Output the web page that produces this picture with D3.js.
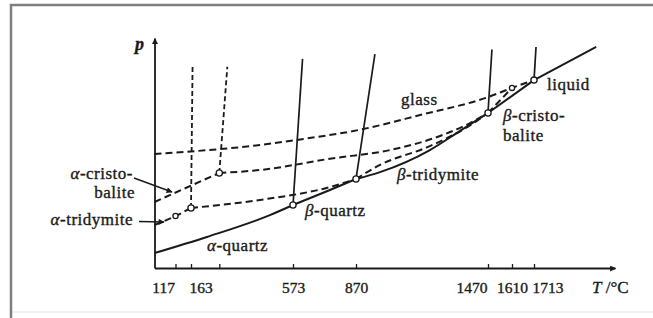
<!DOCTYPE html>
<html>
<head>
<meta charset="utf-8">
<script src="https://cdn.jsdelivr.net/npm/d3@7"></script>
<style>
  body { margin: 0; background: #fff; }
  svg text { font-family: "Liberation Serif", "DejaVu Serif", serif; fill: #1a1a1a; stroke: #1a1a1a; stroke-width: 0.35px; }
</style>
</head>
<body>
<div id="chart"></div>
<script>
// Schematic p-T diagram of SiO2. T in °C, p in arbitrary units (0..100)
var tickTemps  = [117, 163, 270, 573, 870, 1470, 1610, 1713];
var tickLabels = ["117", "163", "", "573", "870", "1470", "1610", "1713"];

// stable branch (solid)
var alphaQuartz      = [[100, 6.5], [223, 13.5], [478, 23], [573, 27.4]];
var betaQuartz       = [[573, 27.4], [747, 33.9], [870, 38.7]];
var betaTridymite    = [[870, 38.7], [979, 41.7], [1206, 51.3], [1343, 59.6], [1470, 67.4]];
var betaCristobalite = [[1470, 67.4], [1713, 81.7]];
var liquid           = [[1713, 81.7], [1895, 96.1]];

// metastable branches (dashed)
var glass              = [[100, 49.6], [437, 53.5], [592, 55.7], [902, 60.4], [1161, 66.5], [1470, 74.3], [1610, 78.3], [1713, 81.7]];
var alphaTridymite     = [[100, 18.7], [117, 22.6], [163, 26.1]];
var betaTridymiteLow   = [[163, 26.1], [437, 29.6], [747, 35.2], [870, 38.7]];
var betaTridymiteHigh  = [[1470, 67.4], [1610, 78.3]];
var betaQuartzHigh     = [[870, 38.7], [979, 44.8], [1206, 53], [1388, 62], [1470, 67.4]];
var alphaCristobalite  = [[100, 28.7], [270, 41.3]];
var betaCristobaliteLo = [[270, 41.3], [437, 42.6], [747, 47.5], [1025, 51.3], [1252, 57.4], [1388, 63], [1470, 67.4]];

// phase boundaries going up from the transition points
var solidBounds  = [[[573, 27.4], [618, 90.9]], [[870, 38.7], [956, 93]], [[1470, 67.4], [1493, 95]], [[1713, 81.7], [1719, 96.1]]];
var dashedBounds = [[[163, 26.1], [169, 88.3]], [[270, 41.3], [303, 87.5]]];

// transition points (open circles)
var points = [[117, 22.6], [163, 26.1], [270, 41.3], [573, 27.4], [870, 38.7], [1470, 67.4], [1610, 78.3], [1713, 81.7]];

var W = 653, H = 318;
var margin = {top: 38, left: 154.5},
    width = 460.5,
    height = 230;

var svg = d3.select("#chart")
  .append("svg")
    .attr("width", W)
    .attr("height", H);

// frame of the scanned figure
svg.append("line")
  .attr("x1", 11).attr("x2", W).attr("y1", 312).attr("y2", 312)
  .attr("stroke", "#ececec").attr("stroke-width", 1.5);
svg.append("path")
  .attr("d", "M11," + H + "V5H" + W)
  .attr("fill", "none").attr("stroke", "#7f7f7f").attr("stroke-width", 2.5);

var defs = svg.append("defs");
defs.append("marker")
    .attr("id", "arrow")
    .attr("viewBox", "0 0 10 10")
    .attr("refX", 9).attr("refY", 5)
    .attr("markerWidth", 8).attr("markerHeight", 6)
    .attr("markerUnits", "userSpaceOnUse")
    .attr("orient", "auto")
  .append("path")
    .attr("d", "M0,0L10,5L0,10z")
    .attr("fill", "#1a1a1a");

var g = svg.append("g")
  .attr("transform", "translate(" + margin.left + "," + margin.top + ")");

// the temperature axis of the original is not to scale: piecewise linear
var x = d3.scaleLinear()
  .domain([100, 117, 163, 270, 573, 870, 1470, 1610, 1713, 1950])
  .range([0, 21, 36.5, 64.8, 138.5, 201.5, 333.5, 357.5, 379.5, width]);
var y = d3.scaleLinear()
  .domain([0, 100])
  .range([height, 0]);

// axes
var xAxis = g.append("g")
  .attr("transform", "translate(0," + height + ")")
  .call(d3.axisBottom(x)
    .tickValues(tickTemps)
    .tickFormat(function(d, i) { return tickLabels[i]; })
    .tickSizeInner(-4)
    .tickSizeOuter(0)
    .tickPadding(14));
xAxis.select(".domain").attr("stroke", "#1a1a1a").attr("stroke-width", 1.8).attr("marker-end", "url(#arrow)");
xAxis.selectAll(".tick line").attr("stroke", "#1a1a1a").attr("stroke-width", 1.3);
var anchors = {117: "end", 163: "start", 1470: "end", 1713: "start"};
xAxis.selectAll(".tick text")
  .style("font-family", "Liberation Serif, serif")
  .style("font-size", "15.5px")
  .attr("fill", "#1a1a1a")
  .attr("text-anchor", function(d) { return anchors[d] || "middle"; })
  .attr("dx", function(d) { return anchors[d] === "end" ? -1 : (anchors[d] === "start" ? -2 : 0); });

var yAxis = g.append("g")
  .call(d3.axisLeft(y).tickValues([]).tickSizeOuter(0));
yAxis.select(".domain").attr("stroke", "#1a1a1a").attr("stroke-width", 1.8).attr("marker-end", "url(#arrow)");

var curve = d3.line()
  .x(function(d) { return x(d[0]); })
  .y(function(d) { return y(d[1]); })
  .curve(d3.curveMonotoneX);
var straight = d3.line()
  .x(function(d) { return x(d[0]); })
  .y(function(d) { return y(d[1]); });

var dash = "7,4";

// metastable curves
[glass, alphaTridymite, betaTridymiteLow, betaTridymiteHigh, betaQuartzHigh, alphaCristobalite, betaCristobaliteLo]
  .forEach(function(c) {
    g.append("path")
      .attr("d", curve(c))
      .attr("fill", "none")
      .attr("stroke", "#1a1a1a")
      .attr("stroke-width", 2)
      .attr("stroke-dasharray", dash);
  });

dashedBounds.forEach(function(c) {
  g.append("path")
    .attr("d", straight(c))
    .attr("fill", "none")
    .attr("stroke", "#1a1a1a")
    .attr("stroke-width", 1.8)
    .attr("stroke-dasharray", "5,3");
});

// stable curves
[alphaQuartz, betaQuartz, betaTridymite, betaCristobalite, liquid].forEach(function(c) {
  g.append("path")
    .attr("d", curve(c))
    .attr("fill", "none")
    .attr("stroke", "#1a1a1a")
    .attr("stroke-width", 2);
});

solidBounds.forEach(function(c) {
  g.append("path")
    .attr("d", straight(c))
    .attr("fill", "none")
    .attr("stroke", "#1a1a1a")
    .attr("stroke-width", 1.7);
});

g.selectAll("circle.pt")
  .data(points)
  .enter()
  .append("circle")
    .attr("class", "pt")
    .attr("cx", function(d) { return x(d[0]); })
    .attr("cy", function(d) { return y(d[1]); })
    .attr("r", function(d) { return (d[0] === 117 || d[0] === 1610) ? 2.6 : 3.1; })
    .attr("fill", "#fff")
    .attr("stroke", "#1a1a1a")
    .attr("stroke-width", 1.3);

// labels
function label(txt, px, py, anchor, greek) {
  var t = svg.append("text")
    .attr("x", px).attr("y", py)
    .attr("text-anchor", anchor || "start")
    .style("font-size", "17px")
    .style("letter-spacing", "0.5px");
  if (greek) {
    t.append("tspan").style("font-style", "italic").text(greek);
  }
  t.append("tspan").text(txt);
  return t;
}
label("glass", 401, 105);
label("liquid", 547, 90);
label("-cristo-", 503, 121, "start", "β");
label("balite", 503, 141);
label("-tridymite", 397, 180, "start", "β");
label("-quartz", 305, 216, "start", "β");
label("-quartz", 207, 251, "start", "α");
label("-cristo-", 133, 179, "end", "α");
label("balite", 135, 198, "end");
label("-tridymite", 133, 225, "end", "α");

svg.append("text")
  .attr("x", 135).attr("y", 50)
  .style("font-size", "18px").style("font-style", "italic").style("font-weight", "bold")
  .text("p");
var tl = svg.append("text")
  .attr("x", 592).attr("y", 293)
  .style("font-size", "17px");
tl.append("tspan").style("font-style", "italic").text("T");
tl.append("tspan").text(" /°C");

// annotation arrows
svg.append("line")
  .attr("x1", 134).attr("y1", 178).attr("x2", 172).attr("y2", 192)
  .attr("stroke", "#1a1a1a").attr("stroke-width", 1.4).attr("marker-end", "url(#arrow)");
svg.append("line")
  .attr("x1", 139).attr("y1", 221.5).attr("x2", 164).attr("y2", 222)
  .attr("stroke", "#1a1a1a").attr("stroke-width", 1.4).attr("marker-end", "url(#arrow)");
</script>
</body>
</html>
